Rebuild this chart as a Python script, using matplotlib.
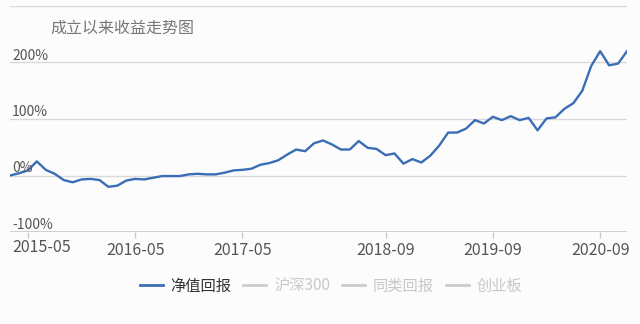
import numpy as np
import pandas as pd
import matplotlib
matplotlib.use("Agg")
import matplotlib.pyplot as plt
import matplotlib.transforms as mtransforms
from matplotlib.lines import Line2D

plt.rcParams['font.family'] = ['Noto Sans CJK SC', 'DejaVu Sans']

# monthly NAV return (%), 2015-03 .. 2020-12
months = pd.date_range("2015-03", "2020-12", freq="MS").strftime("%Y-%m").tolist()
nav_return = [
    0, 4, 9, 25, 10, 3, -8, -12, -7, -6,
    -8, -20, -18, -9, -6, -7, -4, -1, -1, -1,
    2, 3, 2, 2, 5, 9, 10, 12, 19, 22,
    27, 37, 46, 43, 57, 62, 55, 46, 46, 61,
    49, 47, 36, 39, 21, 29, 23, 35, 53, 76,
    76, 83, 98, 92, 104, 98, 105, 98, 102, 80,
    101, 103, 118, 128, 150, 194, 220, 195, 198, 220,
]
tick_months = ["2015-05", "2016-05", "2017-05", "2018-09", "2019-09", "2020-09"]
y_ticks = [-100, 0, 100, 200, 300]
legend_names = ["净值回报", "沪深300", "同类回报", "创业板"]

bg = "#fcfcfd"
blue = "#3b6db4"

fig = plt.figure(figsize=(6.4, 3.24), dpi=100, facecolor=bg)
ax = fig.add_axes([10 / 640, 1 - 232 / 324, 617 / 640, 226 / 324], facecolor=bg)

x = np.arange(len(months))
ax.plot(x, nav_return, color=blue, lw=1.7, solid_joinstyle="round", zorder=3)

ax.set_xlim(0, len(months) - 1)
ax.set_ylim(-100, 300)

for v in y_ticks[1:]:
    ax.axhline(v, color="#d9d9dc", lw=1, zorder=1)
ax.axhline(-100, color="#c4cad3", lw=1.2, zorder=2)

trans = mtransforms.blended_transform_factory(ax.transAxes, ax.transData)
for v in y_ticks[:-1]:
    ax.annotate(f"{v}%", xy=(0, v), xycoords=trans, xytext=(2, 3),
                textcoords="offset pixels", ha="left", va="baseline",
                fontsize=10, color="#555555")

for s in ax.spines.values():
    s.set_visible(False)
ax.set_yticks([])

tick_pos = [months.index(m) for m in tick_months]
ax.set_xticks(tick_pos)
ax.set_xticklabels([""] + tick_months[1:])
ax.tick_params(axis="x", length=4, width=1, color="#c4cad3", pad=3,
               labelsize=11.5, labelcolor="#555555")
# first label is pushed to the left edge
ax.annotate(tick_months[0], xy=(0, 0), xycoords="axes fraction",
            xytext=(2, -7), textcoords="offset pixels", ha="left", va="top",
            fontsize=11.5, color="#555555")

fig.text(50 / 640, 1 - 28 / 324, "成立以来收益走势图", ha="left", va="center",
         fontsize=11.5, color="#777777")

colors = [blue, "#cccccc", "#cccccc", "#cccccc"]
handles = [Line2D([], [], color=c, lw=2) for c in colors]
leg = fig.legend(handles, legend_names, loc="center", ncol=4,
                 bbox_to_anchor=(331 / 640, 1 - 286 / 324), frameon=False,
                 fontsize=11, handlelength=1.5, handletextpad=0.5,
                 columnspacing=0.8)
for t, c in zip(leg.get_texts(), ["#333333", "#c8c8c8", "#c8c8c8", "#c8c8c8"]):
    t.set_color(c)

fig.savefig("out.png", dpi=100, facecolor=bg)
